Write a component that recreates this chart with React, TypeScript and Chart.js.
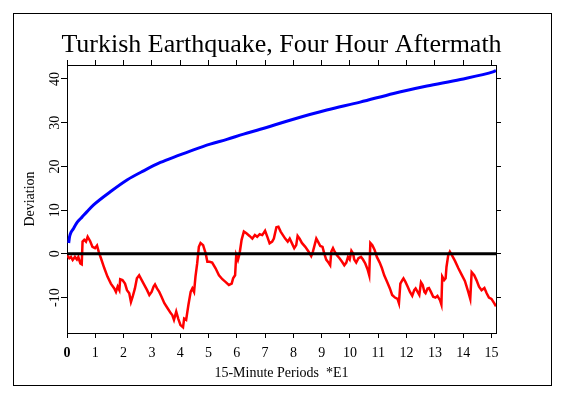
import { useEffect, useRef } from "react";
import { Chart, registerables } from "chart.js";

Chart.register(...registerables);

const TITLE = "Turkish Earthquake, Four Hour Aftermath";
const X_TITLE = "15-Minute Periods  *E1";
const Y_TITLE = "Deviation";

const xTicks = [0, 1, 2, 3, 4, 5, 6, 7, 8, 9, 10, 11, 12, 13, 14, 15];
const yTicks = [-10, 0, 10, 20, 30, 40];
const X_MIN = 0;
const X_MAX = 15.16;
const Y_MIN = -18.1;
const Y_MAX = 43.2;

// blue envelope curve
const blueX = [0.06, 0.09, 0.14, 0.21, 0.29, 0.37, 0.53, 0.7, 0.94, 1.53, 2.12, 2.71, 3.3, 3.89, 4.47, 5.06, 5.65, 6.24, 6.83, 8.0, 9.18, 10.36, 11.54, 12.72, 13.9, 15.08, 15.16];
const blueY = [2.5, 3.9, 4.9, 5.6, 6.5, 7.3, 8.4, 9.6, 11.2, 14.2, 16.9, 19.0, 20.9, 22.4, 23.8, 25.1, 26.2, 27.4, 28.5, 30.8, 32.9, 34.7, 36.7, 38.4, 39.9, 41.7, 41.9];

// red cumulative deviation
const redX = [
  0, 0.08, 0.14, 0.2, 0.28, 0.35, 0.4, 0.47, 0.52, 0.55,
  0.61, 0.67, 0.73, 0.82, 0.9, 0.99, 1.06, 1.12, 1.2, 1.32,
  1.43, 1.55, 1.67, 1.73, 1.79, 1.85, 1.88, 1.96, 2.05, 2.12,
  2.2, 2.26, 2.32, 2.4, 2.47, 2.55, 2.64, 2.73, 2.83, 2.91,
  2.99, 3.06, 3.11, 3.18, 3.26, 3.34, 3.44, 3.56, 3.67, 3.72,
  3.78, 3.86, 3.93, 4.01, 4.1, 4.14, 4.21, 4.29, 4.37, 4.43,
  4.49, 4.54, 4.6, 4.66, 4.72, 4.81, 4.9, 4.96, 5.04, 5.13,
  5.25, 5.37, 5.49, 5.6, 5.72, 5.82, 5.87, 5.94, 5.98, 6.04,
  6.1, 6.17, 6.25, 6.34, 6.45, 6.55, 6.64, 6.72, 6.81, 6.9,
  7.0, 7.08, 7.16, 7.25, 7.31, 7.4, 7.47, 7.55, 7.63, 7.71,
  7.8, 7.87, 7.95, 8.03, 8.1, 8.15, 8.22, 8.3, 8.42, 8.54,
  8.63, 8.69, 8.75, 8.81, 8.87, 8.95, 9.03, 9.09, 9.16, 9.24,
  9.3, 9.34, 9.4, 9.46, 9.54, 9.63, 9.72, 9.8, 9.87, 9.93,
  9.99, 10.05, 10.11, 10.15, 10.22, 10.3, 10.39, 10.46, 10.54, 10.62,
  10.68, 10.72, 10.79, 10.87, 10.95, 11.05, 11.13, 11.21, 11.31, 11.41,
  11.49, 11.59, 11.68, 11.73, 11.78, 11.85, 11.89, 11.96, 12.04, 12.12,
  12.2, 12.27, 12.32, 12.39, 12.45, 12.51, 12.57, 12.63, 12.67, 12.74,
  12.79, 12.86, 12.94, 13.02, 13.09, 13.18, 13.23, 13.26, 13.33, 13.38,
  13.41, 13.47, 13.53, 13.61, 13.71, 13.83, 13.94, 14.06, 14.18, 14.25,
  14.3, 14.39, 14.47, 14.56, 14.65, 14.75, 14.83, 14.91, 15.0, 15.1,
  15.16,
];
const redY = [
  -0.3, -1.0, -0.7, -1.4, -0.7, -1.3, -0.7, -2.2, -2.4, 2.8,
  3.2, 2.8, 3.9, 2.9, 1.6, 1.3, 1.9, 0.5, -1.0, -3.3,
  -5.2, -6.8, -7.9, -8.7, -7.5, -8.3, -5.8, -6.0, -6.8, -8.3,
  -9.0, -11.0, -9.8, -7.9, -5.6, -4.9, -6.0, -7.1, -8.3, -9.4,
  -8.7, -7.5, -7.0, -7.9, -8.7, -9.8, -11.3, -12.5, -13.6, -14.0,
  -15.1, -13.2, -14.8, -16.3, -16.8, -14.8, -15.1, -11.7, -8.7, -7.9,
  -8.7, -5.2, -2.2, 1.6, 2.5, 2.0, 0.1, -1.8, -1.8, -2.0,
  -3.3, -4.9, -5.8, -6.4, -7.1, -6.8, -5.6, -4.9, -0.3, -1.4,
  0.1, 3.2, 5.1, 4.7, 4.1, 3.5, 4.3, 3.9, 4.5, 4.3,
  5.3, 3.9, 2.4, 2.8, 3.5, 6.1, 6.2, 5.1, 4.3, 3.5,
  2.8, 3.5, 2.4, 1.3, 2.0, 4.1, 3.5, 2.5, 1.6, 0.5,
  -0.5, 0.5, 2.0, 3.5, 2.8, 1.8, 1.6, 0.1, -1.3, -2.0,
  -2.6, 0.5, 1.3, 0.5, -0.3, -1.0, -1.8, -2.6, -2.0, -0.7,
  -1.3, 0.7, 0.1, -1.3, -2.0, -1.0, -0.7, -1.3, -2.2, -3.5,
  -4.9, 2.5, 2.0, 0.9, -0.7, -2.0, -3.3, -4.9, -6.4, -7.9,
  -9.4, -10.0, -10.3, -11.3, -6.8, -6.0, -5.6, -6.4, -7.5, -8.7,
  -9.6, -8.3, -7.9, -8.7, -9.4, -6.5, -7.1, -8.7, -9.0, -7.9,
  -7.8, -8.7, -9.8, -10.0, -9.6, -10.6, -11.6, -5.2, -6.0, -5.6,
  -3.0, -0.4, 0.5, -0.4, -1.6, -3.3, -4.7, -6.2, -8.7, -10.3,
  -4.2, -4.9, -6.0, -7.5, -8.3, -7.8, -9.0, -10.0, -10.3, -11.3,
  -12.0,
];

// zero reference line
const zeroX = [0, 15.16];
const zeroY = [0, 0];

const SERIF = "'Liberation Serif', 'Times New Roman', serif";

const toPoints = (xs: number[], ys: number[]) => xs.map((x, i) => ({ x, y: ys[i] }));

export default function App() {
  const ref = useRef<HTMLCanvasElement>(null);

  useEffect(() => {
    if (!ref.current) return;

    const framePlugin = {
      id: "outerFrame",
      afterDraw(chart: any) {
        const ctx = chart.ctx;
        ctx.save();
        ctx.strokeStyle = "#000";
        ctx.lineWidth = 1;
        ctx.strokeRect(13.5, 13.5, 538, 372);
        ctx.restore();
      },
    };

    const gridBase = { drawOnChartArea: false, drawTicks: true, color: "#000", lineWidth: 1 };
    const borderBase = { display: true, color: "#000", width: 1 };

    const chart = new Chart(ref.current, {
      type: "line",
      data: {
        datasets: [
          {
            label: "zero",
            data: toPoints(zeroX, zeroY),
            borderColor: "#000000",
            borderWidth: 3,
            pointRadius: 0,
            order: 0,
          },
          {
            label: "deviation",
            data: toPoints(redX, redY),
            borderColor: "#ff0000",
            borderWidth: 2.5,
            pointRadius: 0,
            order: 1,
          },
          {
            label: "envelope",
            data: toPoints(blueX, blueY),
            borderColor: "#0000ff",
            borderWidth: 3,
            pointRadius: 0,
            cubicInterpolationMode: "monotone",
            order: 2,
          },
        ],
      },
      plugins: [framePlugin],
      options: {
        animation: false,
        responsive: false,
        devicePixelRatio: 1,
        layout: { padding: 0 },
        plugins: {
          legend: { display: false },
          tooltip: { enabled: false },
          title: {
            display: true,
            text: TITLE,
            color: "#000",
            font: { family: SERIF, size: 26, weight: "normal", lineHeight: 1 },
            padding: { top: 32, bottom: 2 },
          },
        },
        scales: {
          x: {
            type: "linear",
            position: "bottom",
            min: X_MIN,
            max: X_MAX,
            afterBuildTicks: (s: any) => {
              s.ticks = xTicks.map((v) => ({ value: v }));
            },
            afterFit: (s: any) => {
              s.height = 66;
            },
            ticks: {
              color: "#000",
              padding: 7,
              autoSkip: false,
              minRotation: 0,
              maxRotation: 0,
              font: (c: any) => ({
                family: SERIF,
                size: 14,
                weight: c.tick && c.tick.value === 0 ? "bold" : "normal",
              }),
            },
            grid: { ...gridBase, tickLength: 5 },
            border: borderBase,
            title: {
              display: true,
              text: X_TITLE,
              color: "#000",
              font: { family: SERIF, size: 14 },
              padding: { top: 0, bottom: 17 },
            },
          },
          x2: {
            type: "linear",
            position: "top",
            min: X_MIN,
            max: X_MAX,
            afterBuildTicks: (s: any) => {
              s.ticks = xTicks.map((v) => ({ value: v }));
            },
            afterFit: (s: any) => {
              s.height = 5;
            },
            ticks: { display: false },
            grid: { ...gridBase, tickLength: 5 },
            border: borderBase,
          },
          y: {
            type: "linear",
            position: "left",
            min: Y_MIN,
            max: Y_MAX,
            afterBuildTicks: (s: any) => {
              s.ticks = yTicks.map((v) => ({ value: v }));
            },
            afterFit: (s: any) => {
              s.width = 67;
            },
            ticks: {
              color: "#000",
              font: { family: SERIF, size: 14 },
              minRotation: 90,
              maxRotation: 90,
              crossAlign: "center",
              padding: -3.6,
            },
            grid: { ...gridBase, tickLength: 6 },
            border: borderBase,
            title: {
              display: true,
              text: Y_TITLE,
              color: "#000",
              font: { family: SERIF, size: 14 },
              padding: { top: 22, bottom: 0 },
            },
          },
          y2: {
            type: "linear",
            position: "right",
            min: Y_MIN,
            max: Y_MAX,
            afterBuildTicks: (s: any) => {
              s.ticks = yTicks.map((v) => ({ value: v }));
            },
            afterFit: (s: any) => {
              s.width = 67;
            },
            ticks: { display: false },
            grid: { ...gridBase, tickLength: 5 },
            border: borderBase,
          },
        },
      } as any,
    });

    return () => chart.destroy();
  }, []);

  return (
    <div style={{ position: "fixed", left: 0, top: 0, width: 563, height: 399, background: "#fff" }}>
      <canvas ref={ref} width={563} height={399} style={{ display: "block" }} />
    </div>
  );
}
